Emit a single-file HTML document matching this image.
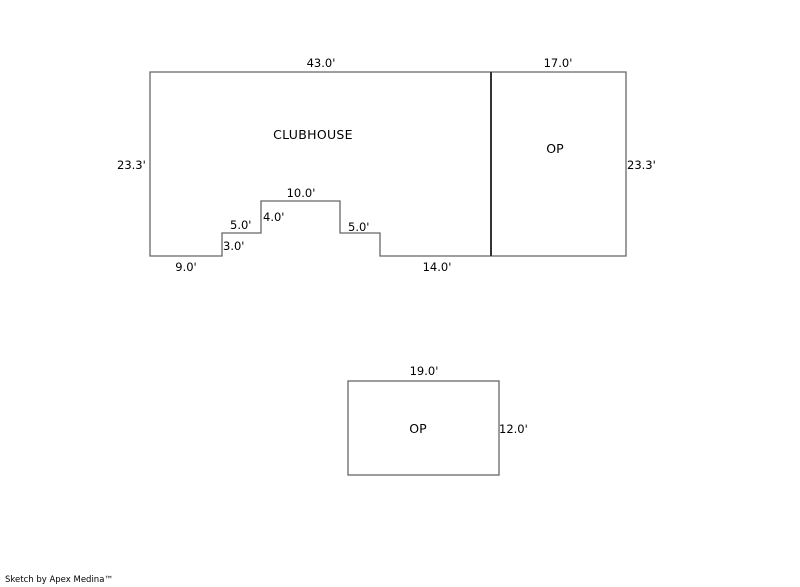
<!DOCTYPE html>
<html><head><style>
html,body{margin:0;padding:0;background:#fff;width:800px;height:587px;overflow:hidden}
svg text{font-family:"DejaVu Sans","Liberation Sans",sans-serif;font-size:11.5px;fill:#000}
</style></head><body>
<svg width="800" height="587" xmlns="http://www.w3.org/2000/svg">
<g fill="none" stroke="#666" stroke-width="1.3">
<polyline points="491,72 150,72 150,256 222,256 222,233 261,233 261,201 340,201 340,233 380,233 380,256 491,256"/>
<polyline points="491,72 626,72 626,256 491,256"/>
<rect x="348" y="381" width="151" height="94"/>
</g>
<line x1="491" y1="72" x2="491" y2="256" stroke="#333" stroke-width="2"/>
<text x="321" y="67" text-anchor="middle">43.0'</text>
<text x="558" y="67" text-anchor="middle">17.0'</text>
<text x="117" y="169">23.3'</text>
<text x="627" y="169">23.3'</text>
<text x="313" y="139" text-anchor="middle" style="font-size:12.5px;letter-spacing:0.3px">CLUBHOUSE</text>
<text x="555" y="153" text-anchor="middle" style="font-size:12.5px">OP</text>
<text x="301" y="197" text-anchor="middle">10.0'</text>
<text x="230" y="229">5.0'</text>
<text x="263" y="221">4.0'</text>
<text x="223" y="250">3.0'</text>
<text x="348" y="231">5.0'</text>
<text x="186" y="271" text-anchor="middle">9.0'</text>
<text x="437" y="271" text-anchor="middle">14.0'</text>
<text x="424" y="375" text-anchor="middle">19.0'</text>
<text x="418" y="433" text-anchor="middle" style="font-size:12.5px">OP</text>
<text x="499" y="433">12.0'</text>
<text x="5" y="582" style="font-size:8.5px">Sketch by Apex Medina™</text>
</svg>
</body></html>
